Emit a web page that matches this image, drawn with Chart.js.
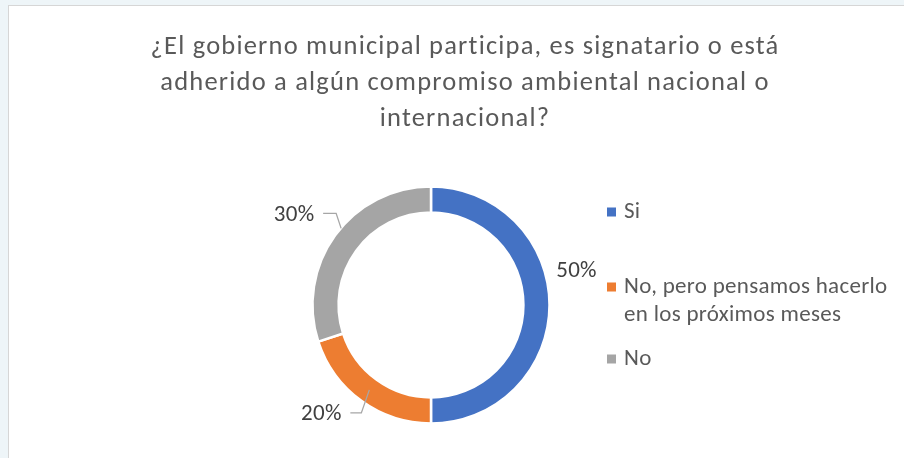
<!DOCTYPE html>
<html>
<head>
<meta charset="utf-8">
<script src="https://cdn.jsdelivr.net/npm/chart.js@4.4.1/dist/chart.umd.min.js"></script>
<style>
  html, body { margin: 0; padding: 0; }
  body { width: 904px; height: 458px; background: #eef5f8; overflow: hidden; position: relative; }
  #box {
    position: absolute; left: 8px; top: 5px; width: 896px; height: 453px;
    background: #fff; border-left: 1px solid #d6d6d6; border-top: 1px solid #d6d6d6;
    box-sizing: border-box;
  }
  #wrap { position: absolute; left: 1px; top: 1px; width: 895px; height: 452px; }
</style>
</head>
<body>
<div id="box"><div id="wrap"><canvas id="chart"></canvas></div></div>
<script>
const titleLines = [
    "¿El gobierno municipal participa, es signatario o está",
    "adherido a algún compromiso ambiental nacional o",
    "internacional?"
];
const categories = ["Si", "No, pero pensamos hacerlo en los próximos meses", "No"];
const legendLines = [["Si"], ["No, pero pensamos hacerlo", "en los próximos meses"], ["No"]];
const values = [50, 20, 30];
const colors = ["#4472C4", "#ED7D31", "#A5A5A5"];

const FONT = "Carlito, Lato, 'Liberation Sans', sans-serif";

// where each data label sits, relative to the outer middle of its slice
const labelPlace = [
    { dx: 27, dy: -34, leader: null },
    { dx: -40, dy: 13, leader: [[-11, 12], [0, 12], [8, -11]] },
    { dx: -41, dy: -20, leader: [[-12, -22], [1, -22], [6, -7]] }
];

const decor = {
    id: "decor",
    afterDraw(chart) {
        const ctx = chart.ctx;
        ctx.save();
        // title
        ctx.fillStyle = "#595959";
        ctx.font = "26.5px " + FONT;
        ctx.letterSpacing = "1.2px";
        ctx.textAlign = "center";
        ctx.textBaseline = "alphabetic";
        titleLines.forEach((t, i) => ctx.fillText(t, 455, 47 + i * 36));

        // data labels
        ctx.textBaseline = "middle";
        ctx.letterSpacing = "0.3px";
        const meta = chart.getDatasetMeta(0);
        const total = values.reduce((a, b) => a + b, 0);
        meta.data.forEach((arc, i) => {
            const p = arc.getProps(["x", "y", "startAngle", "endAngle", "outerRadius"], true);
            const mid = (p.startAngle + p.endAngle) / 2;
            const ox = p.x + Math.cos(mid) * p.outerRadius;
            const oy = p.y + Math.sin(mid) * p.outerRadius;
            const pl = labelPlace[i];
            if (pl.leader) {
                ctx.strokeStyle = "#A6A6A6";
                ctx.lineWidth = 1.3;
                ctx.beginPath();
                pl.leader.forEach((pt, j) => {
                    if (j === 0) ctx.moveTo(ox + pt[0], oy + pt[1]);
                    else ctx.lineTo(ox + pt[0], oy + pt[1]);
                });
                ctx.stroke();
            }
            ctx.fillStyle = "#404040";
            ctx.font = "23px " + FONT;
            ctx.textAlign = "center";
            ctx.fillText(Math.round(values[i] / total * 100) + "%", ox + pl.dx, oy + pl.dy);
        });

        // legend
        ctx.font = "23px " + FONT;
        ctx.textAlign = "left";
        const rows = [205, 280, 352];
        legendLines.forEach((lines, i) => {
            ctx.fillStyle = colors[i];
            ctx.fillRect(597, rows[i] - 4.5, 9, 9);
            ctx.fillStyle = "#595959";
            lines.forEach((l, j) => ctx.fillText(l, 614, rows[i] + j * 28));
        });
        ctx.restore();
    }
};

new Chart(document.getElementById("chart"), {
    type: "doughnut",
    data: {
        labels: categories,
        datasets: [{
            data: values,
            backgroundColor: colors,
            borderColor: "#ffffff",
            borderWidth: 2.5,
            radius: 118.5,
            cutout: "78%"
        }]
    },
    options: {
        responsive: true,
        maintainAspectRatio: false,
        animation: false,
        layout: { padding: { left: 302.5, top: 179.5, right: 355.5, bottom: 35.5 } },
        plugins: {
            legend: { display: false },
            title: { display: false },
            tooltip: { enabled: false }
        }
    },
    plugins: [decor]
});
</script>
</body>
</html>
